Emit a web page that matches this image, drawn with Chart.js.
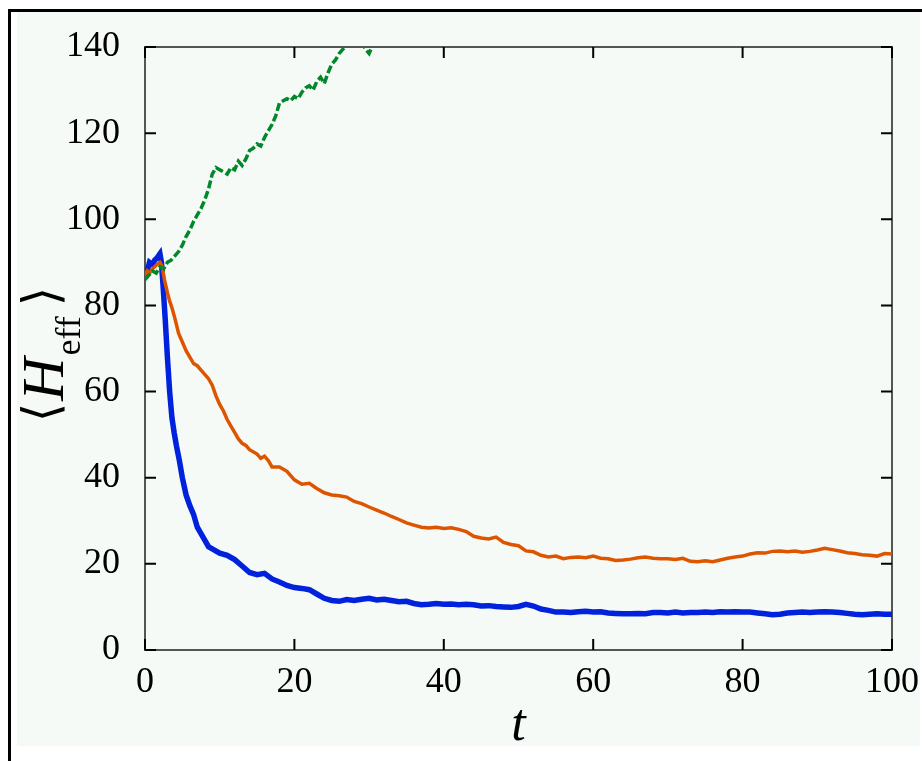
<!DOCTYPE html>
<html>
<head>
<meta charset="utf-8">
<script src="https://cdn.jsdelivr.net/npm/chart.js@4.4.1/dist/chart.umd.min.js"></script>
<style>
  html, body { margin: 0; padding: 0; background: #fff; width: 922px; height: 761px; overflow: hidden; }
  #frame { position: absolute; left: 8px; top: 9px; width: 940px; height: 780px; border-top: 3px solid #000; border-left: 3px solid #000; }
  #c { position: absolute; left: 17px; top: 12px; background: #f5faf7; }
</style>
</head>
<body>
<div id="frame"></div>
<canvas id="c" width="903" height="734"></canvas>
<script>
'use strict';

const X_TICKS = [0, 20, 40, 60, 80, 100];
const Y_TICKS = [0, 20, 40, 60, 80, 100, 120, 140];

// blue (solid, thick)
const tBlue = [0, 0.3, 0.6, 1, 1.3, 1.6, 2, 2.2, 2.4, 2.7, 3, 3.3, 3.6, 3.9, 4.2, 4.6, 5, 5.5, 6, 6.5, 7, 7.5, 8, 8.5, 9,
  10, 11, 12, 13, 14, 15, 16, 17, 18, 19, 20, 21, 22, 23, 24, 25, 26, 27, 28, 29, 30, 31, 32, 33, 34, 35, 36, 37, 38, 39,
  40, 41, 42, 43, 44, 45, 46, 47, 48, 49, 50, 51, 52, 53, 54, 55, 56, 57, 58, 59, 60, 61, 62, 63, 64, 65, 66, 67, 68, 69,
  70, 71, 72, 73, 74, 75, 76, 77, 78, 79, 80, 81, 82, 83, 84, 85, 86, 87, 88, 89, 90, 91, 92, 93, 94, 95, 96, 97, 98, 99, 100];
const hBlue = [89, 88, 90, 89.5, 90.5, 91, 92, 90, 85, 77, 68, 60, 54, 50.5, 47.5, 44, 40, 36, 33.5, 31.5, 28.5, 27, 25.5, 24, 23.5,
  22.5, 22, 21, 19.5, 18, 17.5, 17.8, 16.5, 15.8, 15, 14.5, 14.3, 14, 13, 12, 11.5, 11.3, 11.7, 11.5, 11.8, 12, 11.6, 11.8, 11.5, 11.2, 11.3, 10.8, 10.5, 10.6, 10.8,
  10.6, 10.7, 10.5, 10.6, 10.5, 10.2, 10.3, 10.1, 10, 9.9, 10.1, 10.6, 10.2, 9.5, 9.2, 8.8, 8.8, 8.7, 8.9, 9, 8.8, 8.9, 8.6, 8.5, 8.4, 8.4, 8.5, 8.4, 8.7, 8.7,
  8.6, 8.8, 8.6, 8.7, 8.7, 8.8, 8.7, 8.9, 8.8, 8.9, 8.8, 8.8, 8.6, 8.4, 8.2, 8.3, 8.6, 8.7, 8.8, 8.7, 8.8, 8.9, 8.8, 8.7, 8.5, 8.3, 8.2, 8.3, 8.4, 8.3, 8.3];

// orange (solid)
const tOrange = [0, 0.3, 0.6, 1, 1.3, 1.6, 2, 2.3, 2.6, 3, 3.3, 3.6, 4, 4.5, 5, 5.5, 6, 6.5, 7, 7.5, 8, 8.5, 9, 9.5,
  10, 10.5, 11, 11.5, 12, 12.5, 13, 13.5, 14, 15, 15.5, 16, 16.5, 17, 18, 19, 20, 21, 22, 23, 24, 25, 26, 27, 28, 29,
  30, 31, 32, 33, 34, 35, 36, 37, 38, 39, 40, 41, 42, 43, 44, 45, 46, 47, 48, 49, 50, 51, 52, 53, 54, 55, 56, 57, 58, 59,
  60, 61, 62, 63, 64, 65, 66, 67, 68, 69, 70, 71, 72, 73, 74, 75, 76, 77, 78, 79, 80, 81, 82, 83, 84, 85, 86, 87, 88, 89,
  90, 91, 92, 93, 94, 95, 96, 97, 98, 99, 100];
const hOrange = [87, 88, 87.5, 88.5, 89, 89.5, 90, 89, 86, 83, 81, 79.5, 77, 73.5, 71.5, 69.5, 68, 66.5, 66, 65, 64, 63, 61.5, 59,
  57, 55.5, 53.5, 52, 50.5, 49, 48, 47.5, 46.5, 45.5, 44.5, 45, 44, 42.5, 42.5, 41.5, 39.5, 38.5, 38.7, 37.5, 36.5, 36, 35.8, 35.5, 34.5, 34,
  33.2, 32.5, 31.8, 31, 30.3, 29.5, 29, 28.5, 28.3, 28.5, 28.2, 28.4, 28, 27.5, 26.4, 26, 25.8, 26.2, 25, 24.5, 24.2, 23, 22.8, 22, 21.6, 21.8, 21.2, 21.5, 21.6, 21.4,
  21.8, 21.3, 21.2, 20.8, 20.9, 21.1, 21.4, 21.6, 21.3, 21.2, 21.2, 21, 21.3, 20.6, 20.5, 20.7, 20.5, 20.9, 21.3, 21.6, 21.8, 22.3, 22.6, 22.5, 22.9, 23, 22.8, 23, 22.7, 22.9,
  23.2, 23.6, 23.3, 23, 22.6, 22.4, 22.1, 22, 21.8, 22.4, 22.3];

// green (dashed), runs off the top of the plot
const tGreen = [0, 0.5, 1, 1.5, 2, 2.5, 3, 3.5, 4, 4.5, 5, 5.5, 6, 6.5, 7, 7.5, 8, 8.5, 9, 9.5,
  10, 10.5, 11, 11.5, 12, 12.5, 13, 13.5, 14, 14.5, 15, 15.5, 16, 16.5, 17, 17.5, 18, 18.5, 19, 19.5,
  20, 20.5, 21, 21.5, 22, 22.5, 23, 23.5, 24, 24.5, 25, 25.5, 26, 26.5, 27, 27.5, 28, 28.5, 29, 29.5,
  30, 30.5, 31, 32, 33, 34, 35];
const hGreen = [86, 87, 88, 87.5, 89, 88.5, 90, 90.5, 91.5, 92.5, 94, 96, 97.5, 99.5, 101, 102.5, 104.5, 107, 110.5, 112,
  111.5, 111, 110.5, 112, 111.5, 113.5, 112.5, 114, 116, 116.5, 117.5, 117, 119, 120.5, 122, 124, 127, 127.5, 128, 127.5,
  128.5, 128, 129.5, 130.5, 131, 130, 132, 133, 131.5, 134, 136, 137, 138.5, 139.5, 140.5, 141, 140.5, 142, 141.5, 139.5,
  138.5, 140.5, 142, 144, 146, 147, 149];

const pts = (ts, vs) => ts.map((t, i) => ({ x: t, y: vs[i] }));

const SERIF = '"Liberation Serif", "Times New Roman", serif';
const TICK = { color: '#000', font: { family: SERIF, size: 36 } };

const frame = {
  id: 'frame',
  beforeDatasetsDraw(chart) {
    const { ctx, chartArea: a, scales: { x, y } } = chart;
    ctx.save();
    ctx.strokeStyle = '#555';
    ctx.lineWidth = 2;
    ctx.strokeRect(a.left, a.top, a.right - a.left, a.bottom - a.top);
    ctx.strokeStyle = '#000';
    ctx.beginPath();
    X_TICKS.forEach(v => {
      const p = x.getPixelForValue(v);
      ctx.moveTo(p, a.bottom); ctx.lineTo(p, a.bottom - 11);
      ctx.moveTo(p, a.top); ctx.lineTo(p, a.top + 11);
    });
    Y_TICKS.forEach(v => {
      const p = y.getPixelForValue(v);
      ctx.moveTo(a.left, p); ctx.lineTo(a.left + 11, p);
      ctx.moveTo(a.right, p); ctx.lineTo(a.right - 11, p);
    });
    ctx.stroke();
    ctx.restore();
  },
  afterDraw(chart) {
    const { ctx, chartArea: a } = chart;
    ctx.save();
    ctx.fillStyle = '#000';
    // x title
    ctx.font = 'italic 52px ' + SERIF;
    ctx.textAlign = 'center';
    ctx.textBaseline = 'alphabetic';
    ctx.fillText('t', (a.left + a.right) / 2, 728);
    // y title  < H_eff >
    ctx.translate(46, (a.top + a.bottom) / 2 + 6);
    ctx.rotate(-Math.PI / 2);
    ctx.textAlign = 'left';
    const parts = [
      { s: '\u27E8', f: '50px "DejaVu Serif", "DejaVu Sans"', br: true, gap: 2 },
      { s: 'H', f: 'italic 60px ' + SERIF, dy: 0, gap: 2 },
      { s: 'eff', f: '36px ' + SERIF, dy: 17, gap: 10 },
      { s: '\u27E9', f: '50px "DejaVu Serif", "DejaVu Sans"', br: true, gap: 0 }
    ];
    let total = 0;
    parts.forEach(p => { ctx.font = p.f; p.w = ctx.measureText(p.s).width; total += p.w + p.gap; });
    let cx = -total / 2;
    parts.forEach(p => {
      ctx.font = p.f;
      let dy = p.dy || 0;
      if (p.br) {
        const m = ctx.measureText(p.s);
        dy = -21 + (m.actualBoundingBoxAscent - m.actualBoundingBoxDescent) / 2;
      }
      ctx.fillText(p.s, cx, dy);
      cx += p.w + p.gap;
    });
    ctx.restore();
  }
};

new Chart(document.getElementById('c').getContext('2d'), {
  type: 'line',
  data: {
    datasets: [
      { data: pts(tGreen, hGreen), borderColor: '#00882a', borderWidth: 3.5, borderDash: [8, 3], order: 0 },
      { data: pts(tOrange, hOrange), borderColor: '#de5500', borderWidth: 3.5, order: 1 },
      { data: pts(tBlue, hBlue), borderColor: '#0022dd', borderWidth: 5.5, order: 2 }
    ]
  },
  options: {
    responsive: false, animation: false,
    elements: { point: { radius: 0 }, line: { tension: 0, fill: false } },
    layout: { padding: { top: 35, right: 28, left: 0, bottom: 0 } },
    plugins: { legend: { display: false }, tooltip: { enabled: false } },
    scales: {
      x: { type: 'linear', min: 0, max: 100, grid: { display: false }, border: { display: false },
        ticks: { ...TICK, stepSize: 20, padding: 3, maxRotation: 0 },
        afterFit: s => { s.height = 96; s.paddingLeft = 0; s.paddingRight = 0; } },
      y: { type: 'linear', min: 0, max: 140, grid: { display: false }, border: { display: false },
        ticks: { ...TICK, stepSize: 20, padding: 17 },
        afterFit: s => { s.width = 128; s.paddingTop = 0; s.paddingBottom = 0; } }
    }
  },
  plugins: [frame]
});
</script>
</body>
</html>
